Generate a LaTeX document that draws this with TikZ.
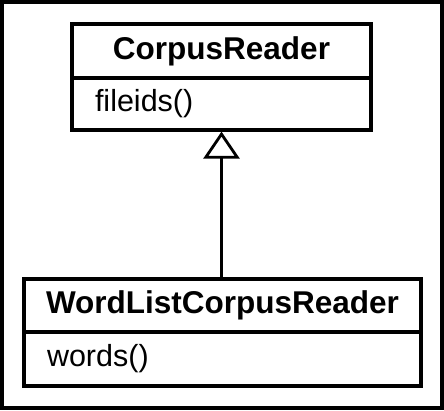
\documentclass[tikz,border=0pt]{standalone}
\usepackage{fontspec}
\setmainfont{Liberation Sans}
\usetikzlibrary{arrows.meta}
\tikzset{
  classhead/.style={draw, line width=3.2pt, inner sep=0pt, font=\fontsize{31.5}{33}\selectfont\bfseries},
  classbody/.style={draw, line width=3.2pt, inner xsep=23pt, inner ysep=0pt, align=left, font=\fontsize{30.5}{32}\selectfont},
}
\begin{document}
\begin{tikzpicture}[x=1pt,y=1pt]
				\useasboundingbox (0,0) rectangle (444,-410);
				\draw[line width=4pt] (2,-2) rectangle (442,-408);
				% base class
				\node[classhead, minimum width=299pt, minimum height=54pt] (crhead) at (221.5,-51) {CorpusReader};
				\node[classbody, text width=253pt, minimum height=52pt] (crbody) at (221.5,-104) {fileids()};
				% subclass
				\node[classhead, minimum width=397pt, minimum height=53pt] (wlhead) at (222.5,-305.5) {WordListCorpusReader};
				\node[classbody, text width=351pt, minimum height=54pt] (wlbody) at (222.5,-359) {words()};
				\draw[line width=3.2pt,-{Triangle[open,length=27pt,width=36pt,line width=2.8pt]}] (crbody.south |- wlhead.north) -- (crbody.south);
				\end{tikzpicture}
\end{document}
